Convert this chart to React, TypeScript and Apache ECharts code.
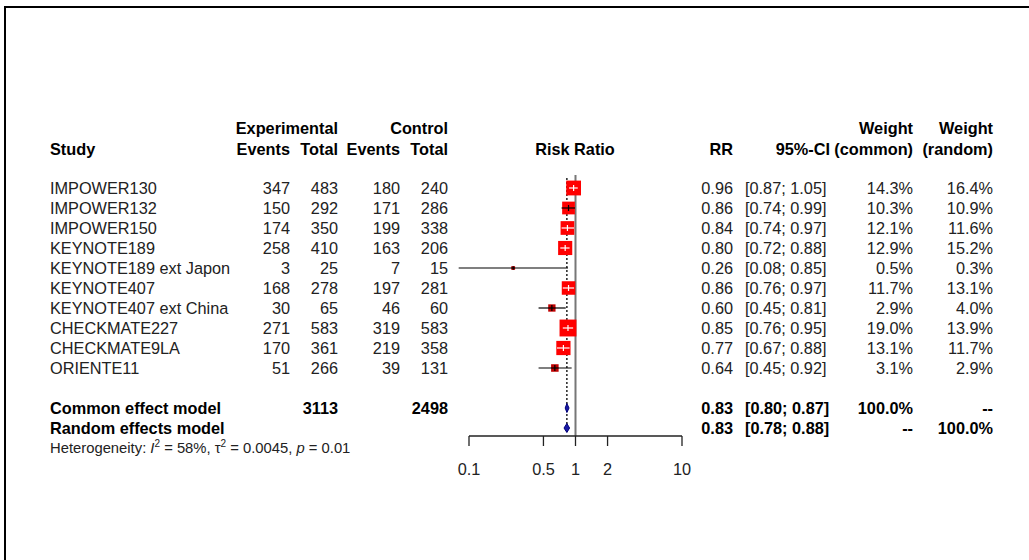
import React, { useEffect, useRef } from "react";
import * as echarts from "echarts";

const studies = [
  "IMPOWER130",
  "IMPOWER132",
  "IMPOWER150",
  "KEYNOTE189",
  "KEYNOTE189 ext Japon",
  "KEYNOTE407",
  "KEYNOTE407 ext China",
  "CHECKMATE227",
  "CHECKMATE9LA",
  "ORIENTE11",
];
const expEvents = [347, 150, 174, 258, 3, 168, 30, 271, 170, 51];
const expTotal = [483, 292, 350, 410, 25, 278, 65, 583, 361, 266];
const ctrlEvents = [180, 171, 199, 163, 7, 197, 46, 319, 219, 39];
const ctrlTotal = [240, 286, 338, 206, 15, 281, 60, 583, 358, 131];
const rr = [0.96, 0.86, 0.84, 0.8, 0.26, 0.86, 0.6, 0.85, 0.77, 0.64];
const ciLow = [0.87, 0.74, 0.74, 0.72, 0.08, 0.76, 0.45, 0.76, 0.67, 0.45];
const ciHigh = [1.05, 0.99, 0.97, 0.88, 0.85, 0.97, 0.81, 0.95, 0.88, 0.92];
const weightCommon = [14.3, 10.3, 12.1, 12.9, 0.5, 11.7, 2.9, 19.0, 13.1, 3.1];
const weightRandom = [16.4, 10.9, 11.6, 15.2, 0.3, 13.1, 4.0, 13.9, 11.7, 2.9];

const summaryLabels = ["Common effect model", "Random effects model"];
const summaryExpTotal = ["3113", ""];
const summaryCtrlTotal = ["2498", ""];
const summaryRR = [0.83, 0.83];
const summaryLow = [0.8, 0.78];
const summaryHigh = [0.87, 0.88];
const summaryWeightCommon = ["100.0%", "--"];
const summaryWeightRandom = ["--", "100.0%"];

const axisTicks = [0.1, 0.5, 1, 2, 10];
const axisTickLabels = ["0.1", "0.5", "1", "2", "10"];
const heterogeneity = { i2: "58%", tau2: "0.0045", p: "0.01" };

const FONT = "'Liberation Sans', Arial, Helvetica, sans-serif";
const FS = 16.3;
const TXT = "#222";
const SUMMARY_ROW0 = 11;
const AXIS_Y_IDX = 12.4;

const fmt2 = (v: number) => v.toFixed(2);
const fmtCI = (l: number, h: number) => `[${fmt2(l)}; ${fmt2(h)}]`;
const fmtW = (w: number) => `${w.toFixed(1)}%`;

function txt(text: string, x: number, y: number, align: string, bold = false, extra: any = {}) {
  return {
    type: "text",
    x,
    y,
    style: {
      text,
      fontFamily: FONT,
      fontSize: FS,
      fontWeight: bold ? "bold" : "normal",
      fill: bold ? "#000" : TXT,
      align,
      verticalAlign: "middle",
      ...extra,
    },
  };
}

export default function App() {
  const ref = useRef<HTMLDivElement>(null);

  useEffect(() => {
    if (!ref.current) return;
    const chart = echarts.init(ref.current, undefined, { renderer: "svg" });

    const headerY1 = 128;
    const headerY2 = 149;
    const HFS = 14.8;

    const graphic: any[] = [
      { type: "line", shape: { x1: 5, y1: 7, x2: 5, y2: 560 }, style: { stroke: "#000", lineWidth: 2 } },
      { type: "line", shape: { x1: 4, y1: 7, x2: 1029, y2: 7 }, style: { stroke: "#000", lineWidth: 2 } },
      txt("Study", 50, headerY2, "left", true),
      txt("Experimental", 338, headerY1, "right", true),
      txt("Events", 290, headerY2, "right", true),
      txt("Total", 338, headerY2, "right", true),
      txt("Control", 448, headerY1, "right", true),
      txt("Events", 400, headerY2, "right", true),
      txt("Total", 448, headerY2, "right", true),
      txt("Risk Ratio", 575, headerY2, "center", true),
      txt("RR", 733, headerY2, "right", true),
      txt("95%-CI", 830, headerY2, "right", true),
      txt("Weight", 913, headerY1, "right", true),
      txt("(common)", 913, headerY2, "right", true),
      txt("Weight", 993, headerY1, "right", true),
      txt("(random)", 993, headerY2, "right", true),
      {
        type: "text",
        x: 50,
        y: 448,
        style: {
          text:
            `{b|Heterogeneity: }{i|I}{s|2}{b| = ${heterogeneity.i2}, τ}{s|2}{b| = ${heterogeneity.tau2}, }{i|p}{b| = ${heterogeneity.p}}`,
          fontFamily: FONT,
          fill: TXT,
          align: "left",
          verticalAlign: "middle",
          rich: {
            b: { fontSize: HFS, fontFamily: FONT, fill: TXT, lineHeight: 19, verticalAlign: "middle" },
            i: { fontSize: HFS, fontFamily: FONT, fill: TXT, fontStyle: "italic", lineHeight: 19, verticalAlign: "middle" },
            s: { fontSize: 10, fontFamily: FONT, fill: TXT, lineHeight: 9, verticalAlign: "top" },
          },
        },
      },
    ];

    const studyData = studies.map((_, i) => [rr[i], ciLow[i], ciHigh[i], weightCommon[i], i]);
    const summaryData = summaryRR.map((v, i) => [v, summaryLow[i], summaryHigh[i], SUMMARY_ROW0 + i]);

    const option: any = {
      animation: false,
      backgroundColor: "#fff",
      grid: { left: 469, right: 1029 - 682, top: 188, bottom: 560 - 428, containLabel: false },
      xAxis: { type: "log", logBase: 10, min: 0.1, max: 10, show: false },
      yAxis: { type: "value", min: 0, max: 12, inverse: true, show: false },
      graphic,
      series: [
        // reference lines
        {
          type: "custom",
          coordinateSystem: "cartesian2d",
          clip: false,
          silent: true,
          z: 1,
          data: [[1, summaryRR[0]]],
          renderItem: (_p: any, api: any) => {
            const top = api.coord([1, -0.65]);
            const bot = api.coord([1, AXIS_Y_IDX]);
            const dTop = api.coord([summaryRR[0], -0.5]);
            const dBot = api.coord([summaryRR[0], AXIS_Y_IDX - 0.2]);
            return {
              type: "group",
              children: [
                {
                  type: "line",
                  shape: { x1: top[0], y1: top[1], x2: bot[0], y2: bot[1] },
                  style: { stroke: "#777", lineWidth: 2 },
                },
                {
                  type: "line",
                  shape: { x1: dTop[0], y1: dTop[1], x2: dBot[0], y2: dBot[1] },
                  style: { stroke: "#000", lineWidth: 1.3, lineDash: [2, 2] },
                },
              ],
            };
          },
        },
        // axis
        {
          type: "custom",
          coordinateSystem: "cartesian2d",
          clip: false,
          silent: true,
          z: 2,
          data: [[1, AXIS_Y_IDX]],
          renderItem: (_p: any, api: any) => {
            const a = api.coord([axisTicks[0], AXIS_Y_IDX]);
            const b = api.coord([axisTicks[axisTicks.length - 1], AXIS_Y_IDX]);
            const children: any[] = [
              {
                type: "line",
                shape: { x1: a[0], y1: a[1], x2: b[0], y2: b[1] },
                style: { stroke: "#222", lineWidth: 1.3 },
              },
            ];
            axisTicks.forEach((t, k) => {
              const p = api.coord([t, AXIS_Y_IDX]);
              children.push({
                type: "line",
                shape: { x1: p[0], y1: p[1], x2: p[0], y2: p[1] + 10 },
                style: { stroke: "#222", lineWidth: 1.3 },
              });
              children.push({
                type: "text",
                x: p[0],
                y: p[1] + 33,
                style: {
                  text: axisTickLabels[k],
                  fontFamily: FONT,
                  fontSize: FS,
                  fill: TXT,
                  align: "center",
                  verticalAlign: "middle",
                },
              });
            });
            return { type: "group", children };
          },
        },
        // study squares & CIs
        {
          type: "custom",
          coordinateSystem: "cartesian2d",
          clip: false,
          silent: true,
          z: 3,
          data: studyData,
          renderItem: (_p: any, api: any) => {
            const idx = api.value(4);
            const c = api.coord([api.value(0), idx]);
            const l = api.coord([api.value(1), idx]);
            const h = api.coord([api.value(2), idx]);
            const s = 3.6 * Math.sqrt(api.value(3)) + 1.2;
            const inside = h[0] - l[0] < s;
            const lc = inside ? "#fff" : "#000";
            const fill = s < 9 ? "#c00000" : "#ff0000";
            return {
              type: "group",
              children: [
                {
                  type: "line",
                  shape: { x1: l[0], y1: c[1], x2: h[0], y2: c[1] },
                  style: { stroke: "#000", lineWidth: 1.2 },
                },
                {
                  type: "rect",
                  shape: { x: c[0] - s / 2, y: c[1] - s / 2, width: s, height: s },
                  style: { fill, stroke: null },
                },
                {
                  type: "line",
                  shape: {
                    x1: Math.max(l[0], c[0] - s / 2),
                    y1: c[1],
                    x2: Math.min(h[0], c[0] + s / 2),
                    y2: c[1],
                  },
                  style: { stroke: lc, lineWidth: 1.2 },
                },
                {
                  type: "line",
                  shape: { x1: c[0], y1: c[1] - Math.min(3, s / 2), x2: c[0], y2: c[1] + Math.min(3, s / 2) },
                  style: { stroke: lc, lineWidth: 1.2 },
                },
              ],
            };
          },
        },
        // summary diamonds
        {
          type: "custom",
          coordinateSystem: "cartesian2d",
          clip: false,
          silent: true,
          z: 3,
          data: summaryData,
          renderItem: (_p: any, api: any) => {
            const idx = api.value(3);
            const c = api.coord([api.value(0), idx]);
            const l = api.coord([api.value(1), idx]);
            const h = api.coord([api.value(2), idx]);
            const hh = 4.5;
            return {
              type: "polygon",
              shape: {
                points: [
                  [l[0], c[1]],
                  [c[0], c[1] - hh],
                  [h[0], c[1]],
                  [c[0], c[1] + hh],
                ],
              },
              style: { fill: "#1a1aa6", stroke: "#00007a", lineWidth: 1 },
            };
          },
        },
        // study table text
        {
          type: "custom",
          coordinateSystem: "cartesian2d",
          clip: false,
          silent: true,
          z: 4,
          data: studies.map((_, i) => [1, i]),
          renderItem: (p: any, api: any) => {
            const i = p.dataIndex;
            const y = api.coord([1, api.value(1)])[1];
            return {
              type: "group",
              children: [
                txt(studies[i], 50, y, "left"),
                txt(String(expEvents[i]), 290, y, "right"),
                txt(String(expTotal[i]), 338, y, "right"),
                txt(String(ctrlEvents[i]), 400, y, "right"),
                txt(String(ctrlTotal[i]), 448, y, "right"),
                txt(fmt2(rr[i]), 733, y, "right"),
                txt(fmtCI(ciLow[i], ciHigh[i]), 745, y, "left"),
                txt(fmtW(weightCommon[i]), 913, y, "right"),
                txt(fmtW(weightRandom[i]), 993, y, "right"),
              ],
            };
          },
        },
        // summary table text
        {
          type: "custom",
          coordinateSystem: "cartesian2d",
          clip: false,
          silent: true,
          z: 4,
          data: summaryLabels.map((_, i) => [1, SUMMARY_ROW0 + i]),
          renderItem: (p: any, api: any) => {
            const i = p.dataIndex;
            const y = api.coord([1, api.value(1)])[1];
            return {
              type: "group",
              children: [
                txt(summaryLabels[i], 50, y, "left", true),
                txt(summaryExpTotal[i], 338, y, "right", true),
                txt(summaryCtrlTotal[i], 448, y, "right", true),
                txt(fmt2(summaryRR[i]), 733, y, "right", true),
                txt(fmtCI(summaryLow[i], summaryHigh[i]), 745, y, "left", true),
                txt(summaryWeightCommon[i], 913, y, "right", true),
                txt(summaryWeightRandom[i], 993, y, "right", true),
              ],
            };
          },
        },
      ],
    };

    chart.setOption(option);
    return () => chart.dispose();
  }, []);

  return (
    <div
      ref={ref}
      style={{ position: "absolute", left: 0, top: 0, width: 1029, height: 560, background: "#fff" }}
    />
  );
}
